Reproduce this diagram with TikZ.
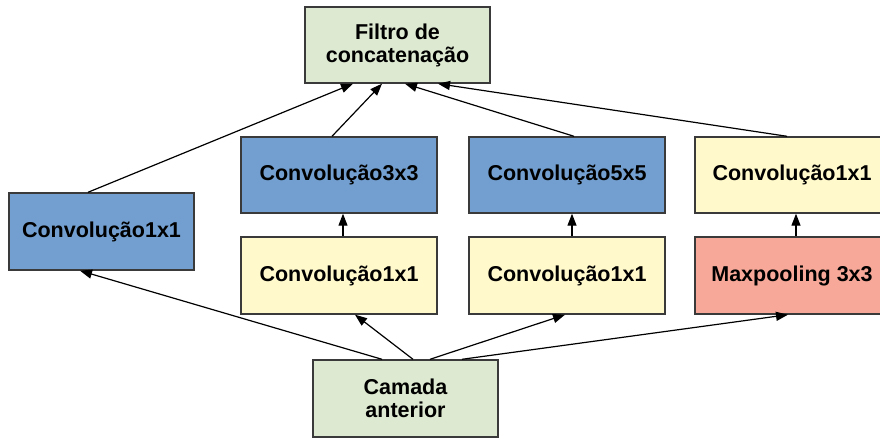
\documentclass[tikz,border=0pt]{standalone}
\usepackage{fontspec}
\setmainfont{Liberation Sans}
\usetikzlibrary{arrows.meta}
\definecolor{boxblue}{HTML}{729FCF}
\definecolor{boxyellow}{HTML}{FFF9CC}
\definecolor{boxgreen}{HTML}{DDE9D0}
\definecolor{boxsalmon}{HTML}{F8A898}
\definecolor{boxedge}{HTML}{3A3A3A}
\tikzset{
  box/.style={draw=boxedge, line width=1.4pt, rectangle, align=center,
    font=\fontsize{21.5pt}{23pt}\selectfont\bfseries, inner sep=0pt,
    minimum height=76pt},
  link/.style={line width=1.2pt, -{Triangle[length=12pt,width=9pt]}},
}
\begin{document}
\begin{tikzpicture}[x=1pt,y=1pt]
  \useasboundingbox (0,0) rectangle (880,439);
  % top: concatenation filter
  \node[box, fill=boxgreen, minimum width=185pt] (filt) at (397.5,394) {Filtro de\\concatenação};
  % branch outputs
  \node[box, fill=boxblue, minimum width=185pt, minimum height=77pt] (c1) at (101.5,207.5) {Convolução1x1};
  \node[box, fill=boxblue, minimum width=196pt] (c3) at (339,264) {Convolução3x3};
  \node[box, fill=boxblue, minimum width=196pt] (c5) at (567,264) {Convolução5x5};
  \node[box, fill=boxyellow, minimum width=194pt] (cp) at (792,264) {Convolução1x1};
  % reductions and pooling
  \node[box, fill=boxyellow, minimum width=196pt, minimum height=77pt] (r3) at (339,163.5) {Convolução1x1};
  \node[box, fill=boxyellow, minimum width=196pt, minimum height=77pt] (r5) at (567,163.5) {Convolução1x1};
  \node[box, fill=boxsalmon, minimum width=194pt, minimum height=77pt] (mp) at (792,163.5) {Maxpooling 3x3};
  % input
  \node[box, fill=boxgreen, minimum width=185pt, minimum height=77pt] (prev) at (405.5,40.5) {Camada\\anterior};

  % input to branches
  \draw[link] ([xshift=-23.5pt]prev.north) -- ([xshift=-21.5pt]c1.south);
  \draw[link] ([xshift=7.5pt]prev.north) -- ([xshift=16pt]r3.south);
  \draw[link] ([xshift=24.5pt]prev.north) -- ([xshift=-2pt]r5.south);
  \draw[link] ([xshift=56.5pt]prev.north) -- ([xshift=-4pt]mp.south);
  % inside branches
  \draw[link] ([xshift=4pt]r3.north) -- ([xshift=4pt]c3.south);
  \draw[link] ([xshift=5pt]r5.north) -- ([xshift=5pt]c5.south);
  \draw[link] ([xshift=4pt]mp.north) -- ([xshift=4pt]cp.south);
  % branches to concatenation
  \draw[link] ([xshift=-13.5pt]c1.north) -- ([xshift=-44.5pt]filt.south);
  \draw[link] ([xshift=-7pt]c3.north) -- ([xshift=-15.5pt]filt.south);
  \draw[link] ([xshift=7pt]c5.north) -- ([xshift=7.5pt]filt.south);
  \draw[link] ([xshift=-5pt]cp.north) -- ([xshift=40.5pt]filt.south);
\end{tikzpicture}
\end{document}
